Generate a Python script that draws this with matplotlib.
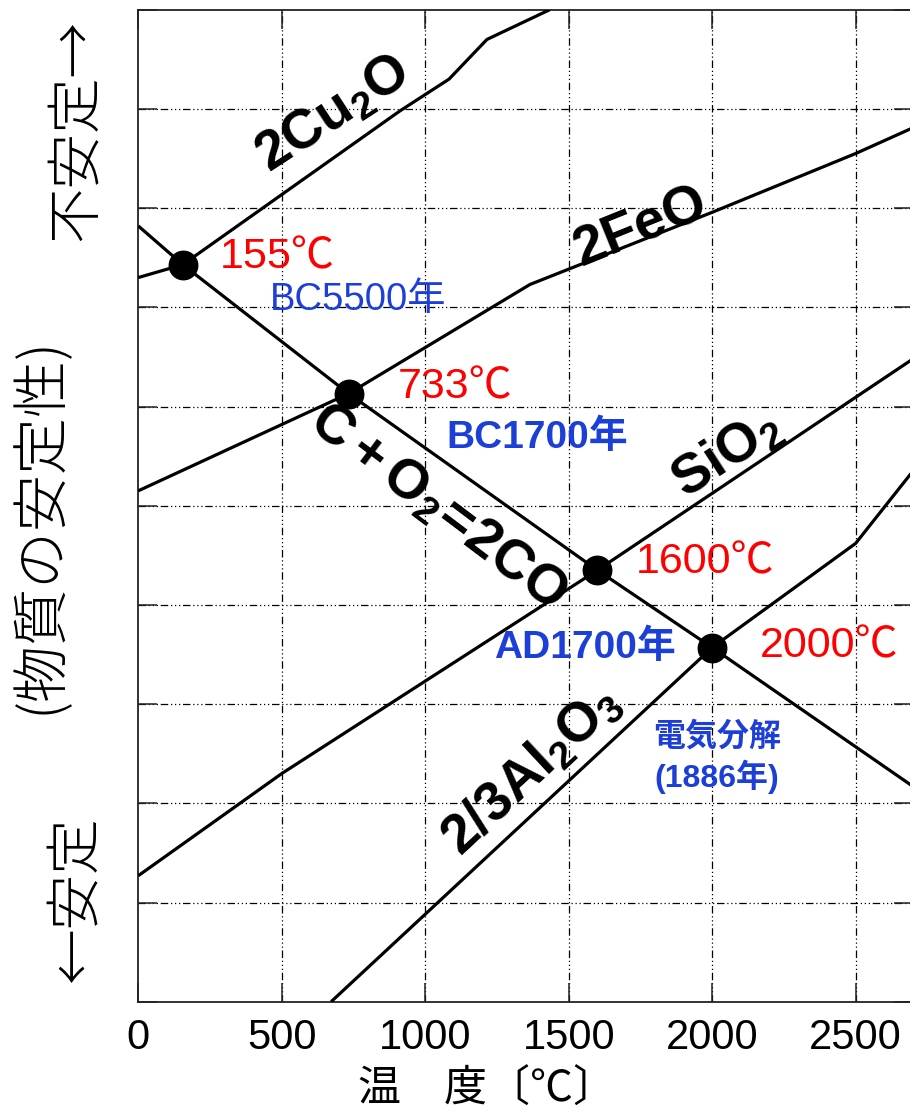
import numpy as np
import matplotlib
matplotlib.use("Agg")
import matplotlib.pyplot as plt

plt.rcParams["font.family"] = ["Liberation Sans", "Noto Sans CJK JP", "DejaVu Sans"]
plt.rcParams["mathtext.fontset"] = "custom"
plt.rcParams["mathtext.rm"] = "Liberation Sans"
plt.rcParams["mathtext.bf"] = "Liberation Sans:bold"
plt.rcParams["mathtext.it"] = "Liberation Sans:italic"

# --- Ellingham-type diagram data: temperature [°C] vs standard free energy [kJ/mol O2]
co_T = [0, 155, 733, 1600, 2000, 2700]          # 2C + O2 = 2CO
co_G = [-218, -257, -387, -565, -643, -783]

cu_T = [0, 155, 912, 1083, 1215, 1434]          # 4Cu + O2 = 2Cu2O
cu_G = [-270, -257, -102, -70, -30, 0]

fe_T = [0, 733, 1365, 2002, 2500, 2700]         # 2Fe + O2 = 2FeO
fe_G = [-485, -387, -277, -204, -145, -119]

si_T = [0, 500, 1600, 2700]                     # Si + O2 = SiO2
si_G = [-873, -770, -565, -352]

al_T = [672, 2000, 2500, 2700]                  # 4/3Al + O2 = 2/3Al2O3
al_G = [-1000, -643, -538, -465]

# reduction temperatures where the CO line crosses each oxide line
cross_T = [155, 733, 1600, 2000]
cross_lbl = ["155℃", "733℃", "1600℃", "2000℃"]

x_ticks = [0, 500, 1000, 1500, 2000, 2500]
y_ticks = list(range(-1000, 1, 100))

W, H = 910, 1116
fig = plt.figure(figsize=(W / 100, H / 100), dpi=100)
ax = fig.add_axes([138.3 / W, 114.3 / H, (913 - 138.3) / W, (1001.7 - 9.7) / H])
ax.set_xlim(0, 2700)
ax.set_ylim(-1000, 0)

# grid and frame
grid_ls = (0, (6, 2.2, 1.0, 2.2, 1.0, 2.2, 1.0, 2.2))
for xv in x_ticks[1:]:
    ax.axvline(xv, color="black", lw=0.9, ls=grid_ls, zorder=1)
for yv in y_ticks[1:-1]:
    ax.axhline(yv, color="black", lw=0.9, ls=grid_ls, zorder=1)

ax.set_xticks(x_ticks)
ax.set_yticks(y_ticks)
ax.set_yticklabels([])
ax.tick_params(axis="both", which="both", direction="in", length=14, width=1.1,
               top=True, right=True, color="#222222")
ax.tick_params(axis="x", labelsize=30, pad=12, labelcolor="black")
for sp in ax.spines.values():
    sp.set_linewidth(1.3)
    sp.set_color("#222222")

# lines
lw = 2.3
for T, G in [(co_T, co_G), (cu_T, cu_G), (fe_T, fe_G), (si_T, si_G), (al_T, al_G)]:
    ax.plot(T, G, color="black", lw=lw, zorder=3, solid_capstyle="butt")

# crossing points
cross_G = np.interp(cross_T, co_T, co_G)
ax.plot(cross_T, cross_G, "o", color="black", ms=20.5, zorder=4)

# temperature labels
red_pos = [(285, -250), (905, -381), (1735, -557), (2166, -642)]
for (x, y), s in zip(red_pos, cross_lbl):
    ax.text(x, y, s, color="#ff0000", fontsize=31, ha="left", va="center", zorder=5)

blue = "#1c3fd8"
ax.text(460, -293, "BC5500年", color=blue, fontsize=27.5, ha="left", va="center")
ax.text(1075, -432, "BC1700年", color=blue, fontsize=28, fontweight="bold",
        ha="left", va="center")
ax.text(1240, -643, "AD1700年", color=blue, fontsize=28, fontweight="bold",
        ha="left", va="center")
ax.text(2017, -754, "電気分解\n(1886年)", color=blue, fontsize=23, fontweight="bold",
        ha="center", va="center", linespacing=1.25)

# species labels along the lines
lab_kw = dict(color="black", fontsize=40, ha="center", va="center",
              rotation_mode="anchor", zorder=5)
ax.text(679, -106, r"$\mathbf{2Cu_2O}$", rotation=33, **lab_kw)
ax.text(1748, -220, r"$\mathbf{2FeO}$", rotation=22, **lab_kw)
ax.text(2052, -449, r"$\mathbf{SiO_2}$", rotation=33, **lab_kw)
ax.text(1042, -502, r"$\mathbf{C+O_2\!=\!2CO}$", rotation=-37, **lab_kw)
ax.text(1372, -768, r"$\mathbf{2/3Al_2O_3}$", rotation=43, **lab_kw)

# axis titles
cjk = ["Noto Sans CJK JP", "DejaVu Sans"]
fig.text(487 / W, 1 - 1090 / H, "温\u3000度〔℃〕", fontsize=31, family=cjk,
         ha="center", va="center")
fig.text(75 / W, 1 - 130 / H, "不安定→", fontsize=40, family=cjk, rotation=90,
         ha="center", va="center", fontweight="light")
fig.text(40 / W, 1 - 525 / H, "(物質の安定性)", fontsize=41, family=cjk, rotation=90,
         ha="center", va="center", fontweight="light")
fig.text(75 / W, 1 - 900 / H, "←安定", fontsize=40, family=cjk, rotation=90,
         ha="center", va="center", fontweight="light")

fig.savefig("out.png", dpi=100)
